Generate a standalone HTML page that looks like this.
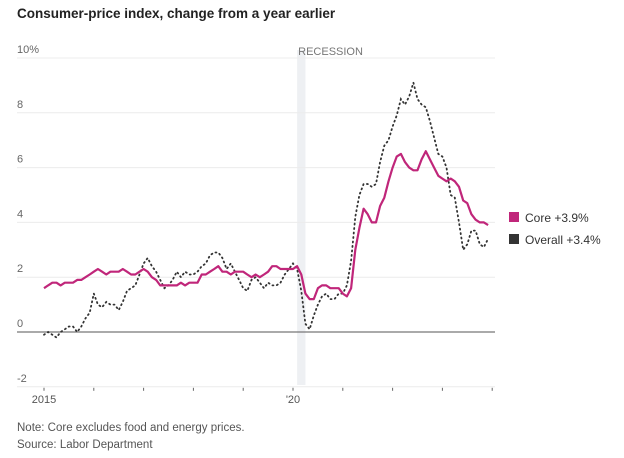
<!DOCTYPE html>
<html><head><meta charset="utf-8"><style>
body{margin:0;background:#fff;width:624px;height:453px;overflow:hidden;font-family:"Liberation Sans",sans-serif;}
svg text{font-family:"Liberation Sans",sans-serif;}
</style></head><body>
<svg id="chart" width="624" height="453">
<text x="17" y="18" font-size="13.5" font-weight="bold" fill="#222">Consumer-price index, change from a year earlier</text>
<text x="17" y="431" font-size="11.5" fill="#555">Note: Core excludes food and energy prices.</text>
<text x="17" y="448" font-size="11.5" fill="#555">Source: Labor Department</text>
<g id="legend">
<rect x="509" y="212" width="10" height="10" fill="#c0267a"/>
<text x="525" y="222" font-size="12" fill="#333">Core +3.9%</text>
<rect x="509" y="234" width="10" height="10" fill="#333"/>
<text x="525" y="244" font-size="12" fill="#333">Overall +3.4%</text>
</g>
</svg>
<script>
const yTicks=[10,8,6,4,2,0,-2];
const yTickLabels=["10%","8","6","4","2","0","-2"];
const xTickYears=[2015,2016,2017,2018,2019,2020,2021,2022,2023,2024];
const xLabels=[[2015,"2015"],[2020,"'20"]];
const core=[1.6,1.7,1.8,1.8,1.7,1.8,1.8,1.8,1.9,1.9,2.0,2.1,
2.2,2.3,2.2,2.1,2.2,2.2,2.2,2.3,2.2,2.1,2.1,2.2,
2.3,2.2,2.0,1.9,1.7,1.7,1.7,1.7,1.7,1.8,1.7,1.8,
1.8,1.8,2.1,2.1,2.2,2.3,2.4,2.2,2.2,2.1,2.2,2.2,
2.2,2.1,2.0,2.1,2.0,2.1,2.2,2.4,2.4,2.3,2.3,2.3,
2.3,2.4,2.1,1.4,1.2,1.2,1.6,1.7,1.7,1.6,1.6,1.6,
1.4,1.3,1.6,3.0,3.8,4.5,4.3,4.0,4.0,4.6,4.9,5.5,
6.0,6.4,6.5,6.2,6.0,5.9,5.9,6.3,6.6,6.3,6.0,5.7,
5.6,5.5,5.6,5.5,5.3,4.8,4.7,4.3,4.1,4.0,4.0,3.9];
const overall=[-0.1,0.0,-0.1,-0.2,0.0,0.1,0.2,0.2,0.0,0.2,0.5,0.7,
1.4,1.0,0.9,1.1,1.0,1.0,0.8,1.1,1.5,1.6,1.7,2.1,
2.5,2.7,2.4,2.2,1.9,1.6,1.7,1.9,2.2,2.0,2.2,2.1,
2.1,2.2,2.4,2.5,2.8,2.9,2.9,2.7,2.3,2.5,2.2,1.9,
1.6,1.5,1.9,2.0,1.8,1.6,1.8,1.7,1.7,1.8,2.1,2.3,
2.5,2.3,1.5,0.3,0.1,0.6,1.0,1.3,1.4,1.2,1.2,1.4,
1.4,1.7,2.6,4.2,5.0,5.4,5.4,5.3,5.4,6.2,6.8,7.0,
7.5,7.9,8.5,8.3,8.6,9.1,8.5,8.3,8.2,7.7,7.1,6.5,
6.4,6.0,5.0,4.9,4.0,3.0,3.2,3.7,3.7,3.2,3.1,3.4];
const recession=[2020+1/12,2020+3/12];
const startYear=2015;

const svg=document.getElementById('chart');
const NS="http://www.w3.org/2000/svg";
function x(yr){return 44+(yr-2015)*49.8;}
function y(v){return 332-v*27.4;}
function mk(tag,attrs,parent){const e=document.createElementNS(NS,tag);for(const k in attrs)e.setAttribute(k,attrs[k]);(parent||svg).appendChild(e);return e;}
const legend=document.getElementById('legend');
const rb=mk('rect',{x:x(recession[0]),y:50,width:x(recession[1])-x(recession[0]),height:335,fill:'#eef0f3'});


const rt=mk('text',{x:x(recession[0])+1,y:55,'font-size':11,fill:'#777'});rt.textContent='RECESSION';


yTicks.forEach((t,i)=>{
  const g=mk('line',{x1:17,x2:495,y1:y(t),y2:y(t),stroke:t===0?'#777':'#ececec','stroke-width':t===0?1.3:1});
  
  
  const l=mk('text',{x:17,y:y(t)-5,'font-size':11,fill:'#666'});l.textContent=yTickLabels[i];
  
  
});
xTickYears.forEach(yr=>{
  const t=mk('line',{x1:x(yr),x2:x(yr),y1:y(-2)+1,y2:y(-2)+4,stroke:'#666'});
  
  
});
xLabels.forEach(([yr,s])=>{
  const t=mk('text',{x:x(yr),y:403,'font-size':11,fill:'#555','text-anchor':'middle'});t.textContent=s;
  
  
});
function pts(arr){return arr.map((v,i)=>x(startYear+i/12).toFixed(1)+','+y(v).toFixed(1)).join(' ');}
const ov=mk('polyline',{points:pts(overall),fill:'none',stroke:'#333','stroke-width':1.8,'stroke-dasharray':'1 3.5','stroke-linecap':'round'});


const co=mk('polyline',{points:pts(core),fill:'none',stroke:'#c0267a','stroke-width':2.2,'stroke-linejoin':'round'});


svg.appendChild(legend);
</script>
</body></html>
